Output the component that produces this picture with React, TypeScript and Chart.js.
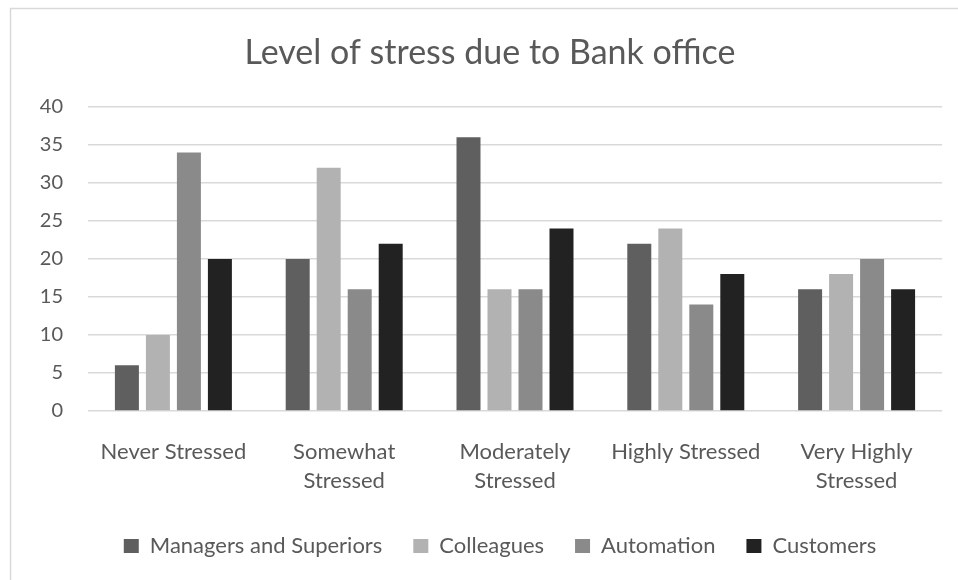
import React, { useEffect, useRef } from "react";
import { Chart, registerables } from "chart.js";

Chart.register(...registerables);

const categories: string[][] = [
  ["Never Stressed"],
  ["Somewhat", "Stressed"],
  ["Moderately", "Stressed"],
  ["Highly Stressed"],
  ["Very Highly", "Stressed"],
];
const managers = [6, 20, 36, 22, 16];
const colleagues = [10, 32, 16, 24, 18];
const automation = [34, 16, 16, 14, 20];
const customers = [20, 22, 24, 18, 16];
const yTicks = [0, 5, 10, 15, 20, 25, 30, 35, 40];

const FONT = "Lato, 'Open Sans', sans-serif";
const TEXT = "#595959";

const frame = {
  id: "frame",
  beforeDraw(chart: any) {
    const ctx = chart.ctx;
    ctx.save();
    ctx.fillStyle = "#ffffff";
    ctx.fillRect(0, 0, chart.width, chart.height);
    ctx.strokeStyle = "#d9d9d9";
    ctx.lineWidth = 1.5;
    ctx.beginPath();
    ctx.moveTo(10.5, chart.height + 2);
    ctx.lineTo(10.5, 8.5);
    ctx.lineTo(chart.width + 2, 8.5);
    ctx.stroke();
    ctx.restore();
  },
  afterLayout(chart: any) {
    const t = chart.titleBlock;
    if (t) {
      t.left += 19;
      t.right += 19;
    }
    const l = chart.legend;
    if (l) {
      l.left += 29;
      l.right += 29;
    }
  },
};

export default function App() {
  const ref = useRef<HTMLCanvasElement>(null);
  useEffect(() => {
    document.body.style.margin = "0";
    const chart = new Chart(ref.current!, {
      type: "bar",
      data: {
        labels: categories,
        datasets: [
          { label: "Managers and Superiors", data: managers, backgroundColor: "#5f5f5f" },
          { label: "Colleagues", data: colleagues, backgroundColor: "#b2b2b2" },
          { label: "Automation", data: automation, backgroundColor: "#8a8a8a" },
          { label: "Customers", data: customers, backgroundColor: "#222222" },
        ],
      },
      options: {
        animation: false,
        responsive: false,
        maintainAspectRatio: false,
        datasets: { bar: { categoryPercentage: 0.726, barPercentage: 0.774 } },
        layout: { padding: { left: 0, right: 16, top: 0, bottom: 13 } },
        plugins: {
          title: {
            display: true,
            text: "Level of stress due to Bank office",
            color: TEXT,
            font: { family: FONT, size: 34, weight: "normal", lineHeight: 1.2 },
            padding: { top: 33, bottom: 33 },
          },
          legend: {
            position: "bottom",
            labels: {
              color: TEXT,
              font: { family: FONT, size: 22, lineHeight: 1 },
              boxWidth: 15,
              boxHeight: 14,
              padding: 31,
            },
          },
          tooltip: { enabled: false },
        },
        scales: {
          x: {
            grid: { display: false, drawTicks: false },
            border: { display: false },
            ticks: {
              color: TEXT,
              font: { family: FONT, size: 22, lineHeight: 1.33 },
              padding: 26,
              maxRotation: 0,
              autoSkip: false,
            },
            afterFit(scale: any) {
              scale.height = 93;
            },
          },
          y: {
            min: 0,
            max: 40,
            afterBuildTicks(scale: any) {
              scale.ticks = yTicks.map((v) => ({ value: v }));
            },
            grid: { color: "#d9d9d9", lineWidth: 1.5, drawTicks: false },
            border: { display: false },
            ticks: {
              color: TEXT,
              font: { family: FONT, size: 20 },
              padding: 25,
            },
            afterFit(scale: any) {
              scale.width = 88;
            },
          },
        },
      },
      plugins: [frame],
    });
    return () => chart.destroy();
  }, []);
  return (
    <div style={{ position: "absolute", left: 0, top: 0, width: 958, height: 580 }}>
      <canvas ref={ref} width={958} height={580} style={{ display: "block" }} />
    </div>
  );
}
